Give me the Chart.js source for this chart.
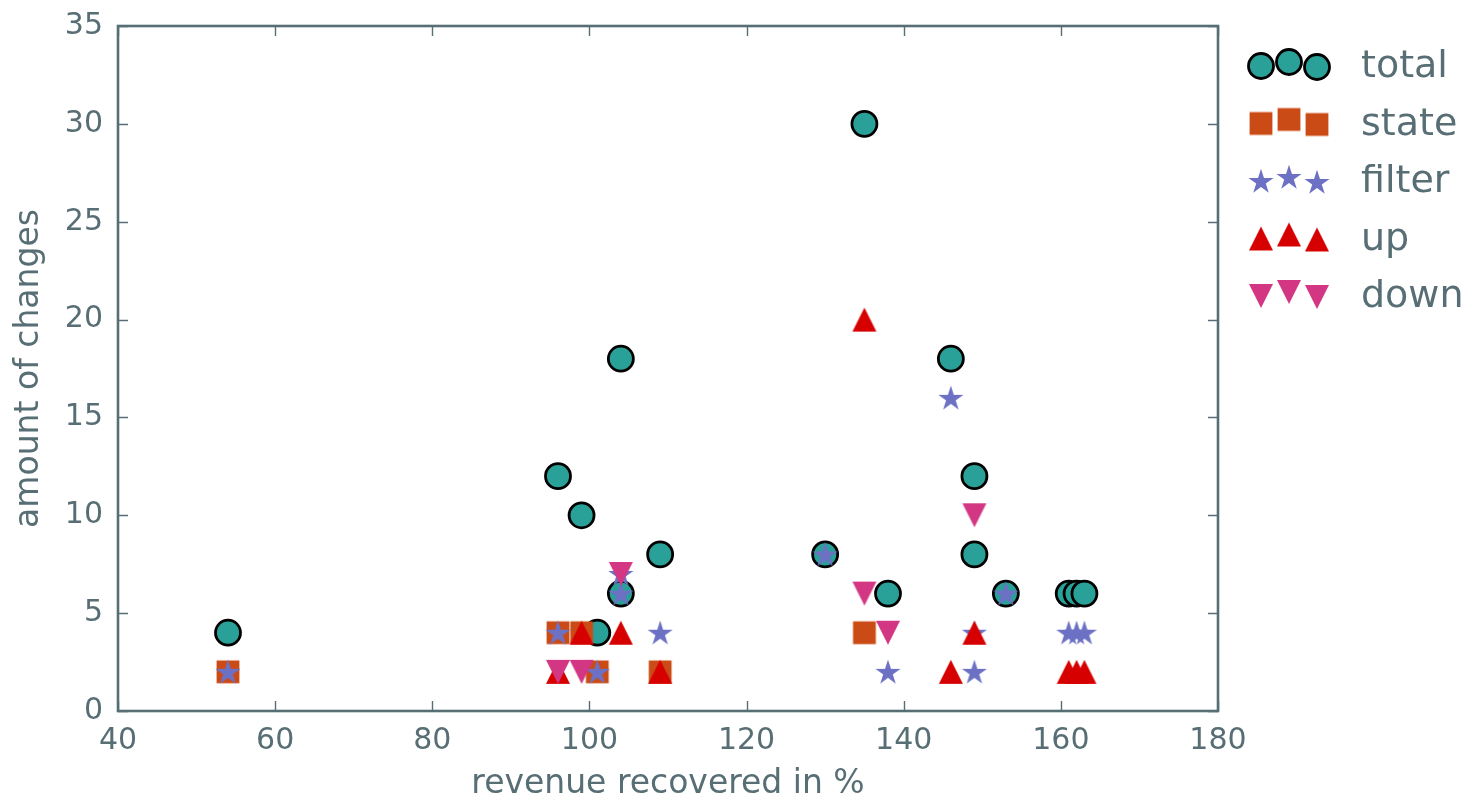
<!DOCTYPE html>
<html>
<head>
<meta charset="utf-8">
<title>Changes vs revenue recovered</title>
<script src="https://cdn.jsdelivr.net/npm/chart.js@4.4.1/dist/chart.umd.min.js"></script>
<style>
  html, body { margin: 0; padding: 0; background: #ffffff; }
  #wrap { width: 1472px; height: 804px; }
</style>
</head>
<body>
<div id="wrap"><canvas id="chart" width="1472" height="804"></canvas></div>
<script>
// Revenue recovered (%) for each observed configuration
const revenue = [54, 96, 99, 101, 104, 104, 109, 130, 135, 138, 146, 149, 149, 153, 161, 162, 163];
// Change counts per configuration (0 = no change of that kind)
const total  = [4, 12, 10, 4, 18, 6, 8, 8, 30, 6, 18, 12, 8, 6, 6, 6, 6];
const state  = [2, 4, 4, 2, 0, 0, 2, 0, 4, 0, 0, 0, 0, 0, 0, 0, 0];
const filter = [2, 4, 0, 2, 7, 6, 4, 8, 0, 2, 16, 2, 4, 6, 4, 4, 4];
const up     = [0, 2, 4, 0, 4, 0, 2, 0, 20, 0, 2, 0, 4, 0, 2, 2, 2];
const down   = [0, 2, 2, 0, 7, 0, 0, 0, 6, 4, 0, 10, 0, 0, 0, 0, 0];

const seriesNames = ['total', 'state', 'filter', 'up', 'down'];
const xTicks = [40, 60, 80, 100, 120, 140, 160, 180];
const yTicks = [0, 5, 10, 15, 20, 25, 30, 35];

const TEXT = '#586e75';
const FONT = 'DejaVu Sans';
const COLORS = {
  total: '#2aa198',
  state: '#cb4b16',
  filter: '#6c71c4',
  up: '#d70000',
  down: '#d33682'
};

// ---- marker sprites ----
function sprite(size, draw) {
  const c = document.createElement('canvas');
  c.width = size; c.height = size;
  const g = c.getContext('2d');
  g.translate(size / 2, size / 2);
  draw(g);
  return c;
}
const squareSprite = sprite(28, g => {
  g.fillStyle = COLORS.state;
  g.fillRect(-11.4, -11.4, 22.8, 22.8);
});
const starSprite = sprite(32, g => {
  const R = 13.2, r = R * 0.381966;
  g.beginPath();
  for (let i = 0; i < 10; i++) {
    const rad = (i % 2 === 0 ? R : r);
    const a = -Math.PI / 2 + i * Math.PI / 5;
    const px = Math.cos(a) * rad, py = Math.sin(a) * rad + 1;
    if (i === 0) g.moveTo(px, py); else g.lineTo(px, py);
  }
  g.closePath();
  g.fillStyle = COLORS.filter;
  g.fill();
});
const upSprite = sprite(30, g => {
  const h = 12;
  g.beginPath();
  g.moveTo(0, -h); g.lineTo(-h, h); g.lineTo(h, h); g.closePath();
  g.fillStyle = COLORS.up;
  g.fill();
});
const downSprite = sprite(30, g => {
  const h = 12;
  g.beginPath();
  g.moveTo(0, h); g.lineTo(-h, -h); g.lineTo(h, -h); g.closePath();
  g.fillStyle = COLORS.down;
  g.fill();
});

function points(values) {
  const pts = [];
  values.forEach((v, i) => { if (v > 0) pts.push({ x: revenue[i], y: v }); });
  return pts;
}

const datasets = [
  { label: 'total', data: points(total), pointStyle: 'circle', pointRadius: 12.5,
    pointBackgroundColor: COLORS.total, pointBorderColor: '#000000', pointBorderWidth: 2.8, order: 5 },
  { label: 'state', data: points(state), pointStyle: squareSprite, pointRadius: 14, order: 4 },
  { label: 'filter', data: points(filter), pointStyle: starSprite, pointRadius: 14, order: 3 },
  { label: 'up', data: points(up), pointStyle: upSprite, pointRadius: 14, order: 2 },
  { label: 'down', data: points(down), pointStyle: downSprite, pointRadius: 14, order: 1 }
];
datasets.forEach(d => { d.showLine = false; d.pointHoverRadius = d.pointRadius; });

// Frame, inward ticks, axis titles and the legend
const framePlugin = {
  id: 'frame',
  beforeDatasetsDraw(chart) {
    const { ctx, chartArea: a, scales } = chart;
    ctx.save();
    ctx.strokeStyle = TEXT;
    ctx.lineWidth = 1.4;
    const tl = 10;
    ctx.beginPath();
    xTicks.forEach(v => {
      const px = Math.round(scales.x.getPixelForValue(v)) + 0.5;
      ctx.moveTo(px, a.bottom); ctx.lineTo(px, a.bottom - tl);
      ctx.moveTo(px, a.top); ctx.lineTo(px, a.top + tl);
    });
    yTicks.forEach(v => {
      const py = Math.round(scales.y.getPixelForValue(v)) + 0.5;
      ctx.moveTo(a.left, py); ctx.lineTo(a.left + tl, py);
      ctx.moveTo(a.right, py); ctx.lineTo(a.right - tl, py);
    });
    ctx.stroke();
    ctx.lineWidth = 2.6;
    ctx.strokeRect(a.left, a.top, a.right - a.left, a.bottom - a.top);

    ctx.fillStyle = TEXT;
    ctx.font = '33px "' + FONT + '"';
    ctx.textAlign = 'center';
    ctx.textBaseline = 'alphabetic';
    ctx.fillText('revenue recovered in %', (a.left + a.right) / 2, 793);
    ctx.save();
    ctx.translate(38, (a.top + a.bottom) / 2);
    ctx.rotate(-Math.PI / 2);
    ctx.fillText('amount of changes', 0, 0);
    ctx.restore();
    ctx.restore();
  },
  afterDraw(chart) {
    const { ctx } = chart;
    ctx.save();
    const mx = [1261, 1289, 1317];
    const my = [-11, -15, -10];
    const sprites = { state: squareSprite, filter: starSprite, up: upSprite, down: downSprite };
    seriesNames.forEach((name, i) => {
      const base = 77 + 57.5 * i;
      mx.forEach((x, k) => {
        const y = base + my[k];
        if (name === 'total') {
          ctx.beginPath();
          ctx.arc(x, y, 12.5, 0, Math.PI * 2);
          ctx.fillStyle = COLORS.total;
          ctx.fill();
          ctx.lineWidth = 2.8;
          ctx.strokeStyle = '#000000';
          ctx.stroke();
        } else {
          const s = sprites[name];
          ctx.drawImage(s, x - s.width / 2, y - s.height / 2);
        }
      });
      ctx.fillStyle = TEXT;
      ctx.font = '38px "' + FONT + '"';
      ctx.textAlign = 'left';
      ctx.textBaseline = 'alphabetic';
      ctx.fillText(name, 1361, base);
    });
    ctx.restore();
  }
};

new Chart(document.getElementById('chart'), {
  type: 'scatter',
  data: { datasets },
  options: {
    responsive: false,
    animation: false,
    devicePixelRatio: 1,
    layout: { padding: { left: 0, top: 26, right: 254, bottom: 0 } },
    plugins: { legend: { display: false }, tooltip: { enabled: false } },
    scales: {
      x: {
        type: 'linear', min: 40, max: 180,
        afterFit(s) { s.height = 93; s.paddingLeft = 0; s.paddingRight = 0; },
        afterBuildTicks(s) { s.ticks = xTicks.map(v => ({ value: v })); },
        grid: { display: false, drawTicks: false },
        border: { display: false },
        ticks: { color: TEXT, font: { family: FONT, size: 30 }, padding: 12, maxRotation: 0 }
      },
      y: {
        type: 'linear', min: 0, max: 35,
        afterFit(s) { s.width = 118; s.paddingTop = 0; s.paddingBottom = 0; },
        afterBuildTicks(s) { s.ticks = yTicks.map(v => ({ value: v })); },
        grid: { display: false, drawTicks: false },
        border: { display: false },
        ticks: { color: TEXT, font: { family: FONT, size: 30 }, padding: 15 }
      }
    }
  },
  plugins: [framePlugin]
});
</script>
</body>
</html>
